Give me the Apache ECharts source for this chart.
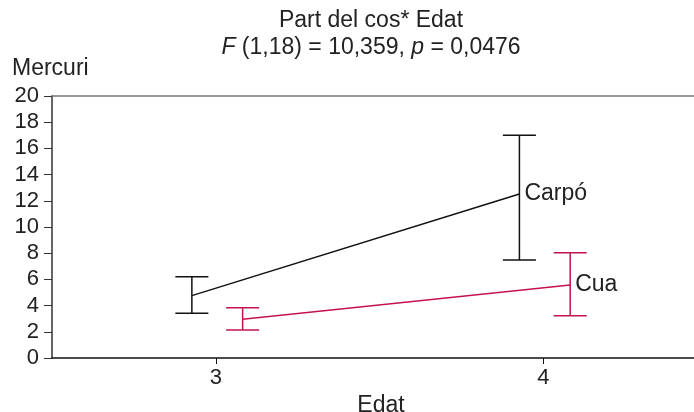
<!DOCTYPE html>
<html>
<head>
<meta charset="utf-8">
<script src="https://cdn.jsdelivr.net/npm/echarts@6/dist/echarts.min.js"></script>
<style>
  html, body { margin: 0; padding: 0; background: #fff; }
  #main { width: 694px; height: 412px; }
</style>
</head>
<body>
<div id="main"></div>
<script>
// dades llegides del gràfic
var edats = [3, 4];
var carpoMitjana = [4.76, 12.52];
var carpoInferior = [3.41, 7.48];
var carpoSuperior = [6.2, 17.0];
var cuaMitjana = [2.95, 5.57];
var cuaInferior = [2.14, 3.23];
var cuaSuperior = [3.84, 8.04];
var xTicks = [3, 4];

var myChart = echarts.init(document.getElementById('main'));

var fontFam = 'Liberation Sans, Arial, sans-serif';
var negre = '#111';
var vermell = '#c4124c';

// desplaçament horitzontal de cada grup
function punts(mitjana, desp) {
    return edats.map(function (e, i) { return [e + desp, mitjana[i]]; });
}
function barres(inf, sup, desp) {
    return edats.map(function (e, i) { return [e + desp, inf[i], sup[i]]; });
}

function errorBar(color) {
    return function (params, api) {
        var x = api.value(0);
        var lo = api.coord([x, api.value(1)]);
        var hi = api.coord([x, api.value(2)]);
        var hw = 16.5;
        var st = { stroke: color, lineWidth: 1.5 };
        return {
            type: 'group',
            children: [
                { type: 'line', shape: { x1: hi[0], y1: hi[1], x2: lo[0], y2: lo[1] }, style: st },
                { type: 'line', shape: { x1: hi[0] - hw, y1: hi[1], x2: hi[0] + hw, y2: hi[1] }, style: st },
                { type: 'line', shape: { x1: lo[0] - hw, y1: lo[1], x2: lo[0] + hw, y2: lo[1] }, style: st }
            ]
        };
    };
}

var option = {
    backgroundColor: '#fff',
    animation: false,
    textStyle: { fontFamily: fontFam },
    title: {
        text: 'Part del cos* Edat\n{i|F} (1,18) = 10,359, {i|p} = 0,0476',
        left: 366,
        top: 2,
        textAlign: 'center',
        textStyle: {
            color: '#222',
            fontSize: 23,
            fontWeight: 'normal',
            lineHeight: 27,
            fontFamily: fontFam,
            rich: {
                i: { fontStyle: 'italic', fontSize: 23, color: '#222', fontFamily: fontFam }
            }
        }
    },
    grid: { left: 52, right: 0, top: 96, bottom: 54, outerBoundsMode: 'none', containLabel: false },
    xAxis: [{
        type: 'value',
        min: 2.5,
        max: 4.46,
        name: 'Edat',
        nameLocation: 'middle',
        nameGap: 34,
        nameTextStyle: { color: '#222', fontSize: 23, padding: [0, 0, 0, 16] },
        axisLine: { show: true, lineStyle: { color: '#111', width: 1.5 } },
        axisTick: { show: true, length: 6, customValues: xTicks, lineStyle: { color: '#111' } },
        axisLabel: { customValues: xTicks, color: '#222', fontSize: 22, margin: 9 },
        splitLine: { show: false }
    }, {
        type: 'value',
        position: 'top',
        min: 2.5,
        max: 4.46,
        axisLine: { show: true, lineStyle: { color: '#777', width: 1.5 } },
        axisTick: { show: false },
        axisLabel: { show: false },
        splitLine: { show: false }
    }],
    yAxis: {
        type: 'value',
        min: 0,
        max: 20,
        interval: 2,
        name: 'Mercuri',
        nameLocation: 'end',
        nameGap: 16,
        nameTextStyle: { color: '#222', fontSize: 23, align: 'left', padding: [0, 0, 0, -40] },
        axisLine: { show: true, lineStyle: { color: '#333', width: 1.5 } },
        axisTick: { show: true, length: 8, lineStyle: { color: '#333' } },
        axisLabel: { color: '#222', fontSize: 22, margin: 13 },
        splitLine: { show: false }
    },
    series: [{
        name: 'Carpó',
        type: 'line',
        data: punts(carpoMitjana, -0.073),
        symbol: 'none',
        lineStyle: { color: negre, width: 1.5 },
        itemStyle: { color: negre },
        endLabel: { show: true, formatter: '{a}', distance: 5, color: '#222', fontSize: 23, fontFamily: fontFam }
    }, {
        name: 'Cua',
        type: 'line',
        data: punts(cuaMitjana, 0.082),
        symbol: 'none',
        lineStyle: { color: vermell, width: 1.5 },
        itemStyle: { color: vermell },
        endLabel: { show: true, formatter: '{a}', distance: 5, color: '#222', fontSize: 23, fontFamily: fontFam }
    }, {
        name: 'Carpó barres',
        type: 'custom',
        renderItem: errorBar(negre),
        data: barres(carpoInferior, carpoSuperior, -0.073),
        encode: { x: 0, y: [1, 2] },
        z: 3
    }, {
        name: 'Cua barres',
        type: 'custom',
        renderItem: errorBar(vermell),
        data: barres(cuaInferior, cuaSuperior, 0.082),
        encode: { x: 0, y: [1, 2] },
        z: 3
    }]
};

myChart.setOption(option);
window.onresize = function () {
    myChart.resize();
};
</script>
</body>
</html>
